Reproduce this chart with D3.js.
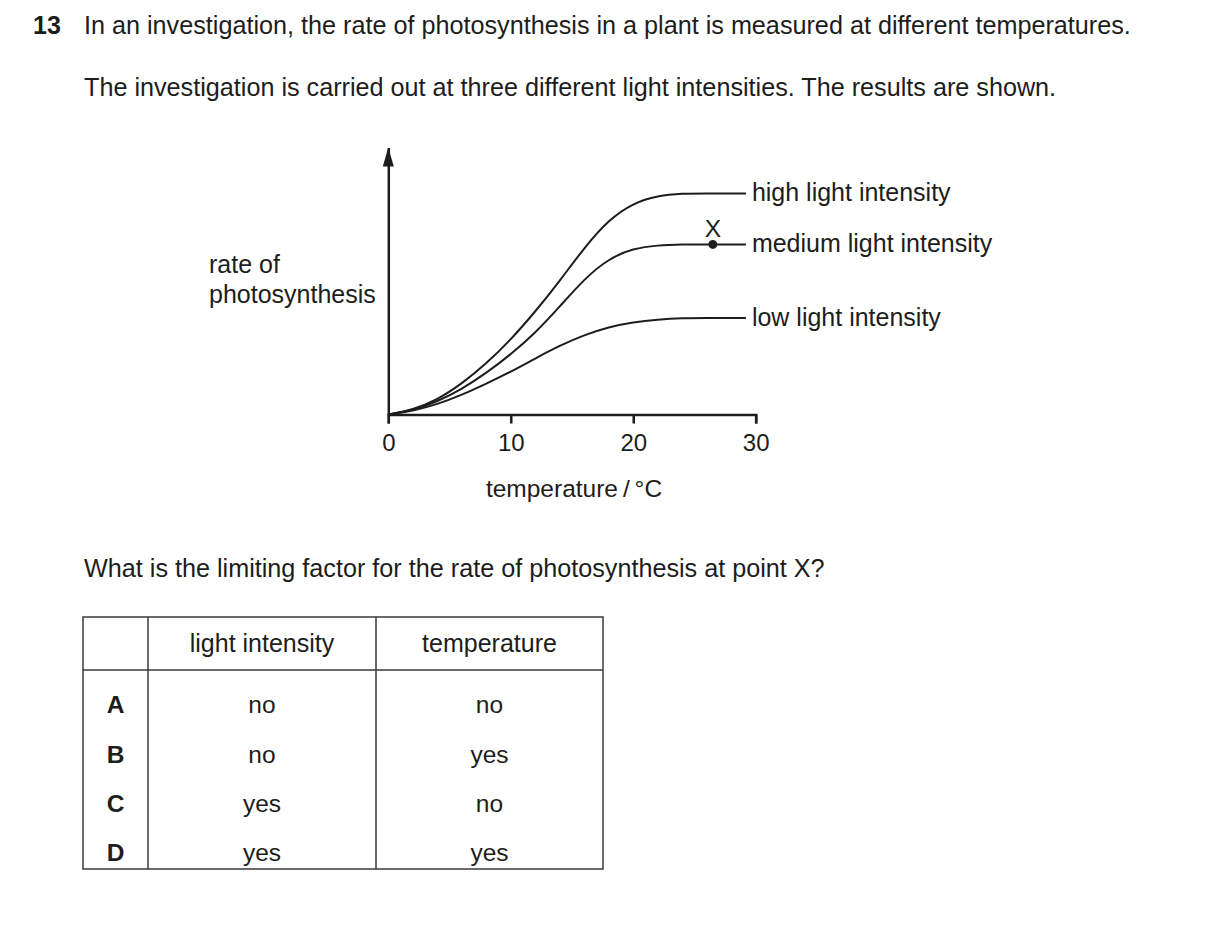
<!DOCTYPE html>
<html><head><meta charset="utf-8">
<script src="https://cdn.jsdelivr.net/npm/d3@7"></script>
<style>
body{margin:0;background:#fff}
text{font-family:"Liberation Sans",Arial,Helvetica,sans-serif;fill:#1d1d1b}
</style>
</head><body>
<svg id="c" width="1209" height="932"></svg>
<script>
// ---- data ----
const temperatures = [0, 2, 4, 6, 8, 10, 12, 14, 16, 18, 20, 22, 24, 26, 28, 29.2];
const highRate   = [0, 1.8, 5.5, 11.5, 19, 28, 38.5, 50, 62.5, 73, 79.2, 82, 82.8, 82.8, 82.8, 82.8];
const mediumRate = [0, 1.6, 4.8, 9.5, 15.5, 22.5, 30.5, 40.4, 50.8, 58.4, 62.2, 63.4, 63.7, 63.7, 63.7, 63.7];
const lowRate    = [0, 1.3, 3.8, 7.3, 11.5, 16, 21, 25.8, 29.8, 32.8, 34.6, 35.6, 36.1, 36.1, 36.1, 36.1];
const seriesNames = ["high light intensity", "medium light intensity", "low light intensity"];
const xTickValues = [0, 10, 20, 30];
const pointLabel = "X";
const pointTemperature = 26.5;
const tableHeaders = ["", "light intensity", "temperature"];
const optionLetters = ["A", "B", "C", "D"];
const lightAnswers = ["no", "no", "yes", "yes"];
const temperatureAnswers = ["no", "yes", "no", "yes"];
const questionNumber = "13";
const introLines = [
  "In an investigation, the rate of photosynthesis in a plant is measured at different temperatures.",
  "The investigation is carried out at three different light intensities. The results are shown."
];
const questionText = "What is the limiting factor for the rate of photosynthesis at point X?";
const yLabelLines = ["rate of", "photosynthesis"];
const xLabel = "temperature\u2009/\u2009°C";

// ---- drawing ----
const ink = "#1d1d1b";
const svg = d3.select("#c");
svg.append("rect").attr("width", 1209).attr("height", 932).attr("fill", "#fff");

// question text
svg.append("text").attr("x", 33).attr("y", 34).attr("font-size", 25).attr("font-weight", "bold").text(questionNumber);
svg.selectAll("text.intro").data(introLines).join("text").attr("class", "intro")
  .attr("x", 84).attr("y", (d, i) => 34 + i * 62).attr("font-size", 25.2).text(d => d);
svg.append("text").attr("x", 84).attr("y", 577).attr("font-size", 25.2).text(questionText);

// scales
const x = d3.scaleLinear().domain([0, 30]).range([388.3, 755.7]);
const y = d3.scaleLinear().domain([0, 100]).range([414.5, 147.5]);

// x axis
const xAxis = svg.append("g").attr("transform", `translate(0,${y(0)})`)
  .call(d3.axisBottom(x).tickValues(xTickValues).tickSize(9).tickSizeOuter(9).tickPadding(10).tickFormat(d3.format("d")));
xAxis.select(".domain").attr("stroke", ink).attr("stroke-width", 2.5);
xAxis.selectAll(".tick line").attr("stroke", ink).attr("stroke-width", 2.5);
xAxis.selectAll(".tick text").attr("font-size", 24).attr("font-family", "'Liberation Sans',Arial,sans-serif").attr("fill", ink);

// y axis with arrow
const yAxis = svg.append("g").attr("transform", `translate(${x(0)},0)`)
  .call(d3.axisLeft(y).tickValues([]).tickSizeOuter(0));
yAxis.select(".domain").attr("stroke", ink).attr("stroke-width", 2.5);
svg.append("path")
  .attr("d", `M${x(0)},${y(100)} L${x(0) - 5.5},${y(100) + 19} L${x(0) + 5.5},${y(100) + 19} Z`)
  .attr("fill", ink);

// curves
const series = [highRate, mediumRate, lowRate].map((vals, i) => ({
  name: seriesNames[i],
  points: temperatures.map((t, j) => ({ t, r: vals[j] }))
}));
const line = d3.line().x(d => x(d.t)).y(d => y(d.r)).curve(d3.curveBasis);
svg.selectAll("path.curve").data(series).join("path").attr("class", "curve")
  .attr("d", d => line(d.points)).attr("fill", "none").attr("stroke", ink).attr("stroke-width", 2);

// series labels
svg.selectAll("text.slabel").data(series).join("text").attr("class", "slabel")
  .attr("x", d => x(d.points[d.points.length - 1].t) + 6)
  .attr("y", d => y(d.points[d.points.length - 1].r) + 7.5)
  .attr("font-size", 25).text(d => d.name);

// point X
const pr = mediumRate[mediumRate.length - 1];
svg.append("circle").attr("cx", x(pointTemperature)).attr("cy", y(pr)).attr("r", 4.5).attr("fill", ink);
svg.append("text").attr("x", x(pointTemperature)).attr("y", y(pr) - 7).attr("text-anchor", "middle")
  .attr("font-size", 24.5).text(pointLabel);

// axis labels
svg.selectAll("text.ylab").data(yLabelLines).join("text").attr("class", "ylab")
  .attr("x", 209).attr("y", (d, i) => 273 + i * 30).attr("font-size", 25).text(d => d);
svg.append("text").attr("x", (x(0) + x(30)) / 2 + 2).attr("y", 497).attr("text-anchor", "middle")
  .attr("font-size", 24.5).text(xLabel);

// answer table
const colX = [83, 148, 376, 603];
const tableTop = 617, headerBottom = 670, tableBottom = 869;
const rowY = [704, 754, 803, 852];
const tg = svg.append("g");
const border = "#3a3a3a";
tg.append("rect").attr("x", colX[0]).attr("y", tableTop).attr("width", colX[3] - colX[0]).attr("height", tableBottom - tableTop)
  .attr("fill", "none").attr("stroke", border).attr("stroke-width", 1.5);
tg.selectAll("line.v").data([colX[1], colX[2]]).join("line").attr("class", "v")
  .attr("x1", d => d).attr("x2", d => d).attr("y1", tableTop).attr("y2", tableBottom)
  .attr("stroke", border).attr("stroke-width", 1.5);
tg.append("line").attr("x1", colX[0]).attr("x2", colX[3]).attr("y1", headerBottom).attr("y2", headerBottom)
  .attr("stroke", border).attr("stroke-width", 1.5);
const colCenter = i => (colX[i] + colX[i + 1]) / 2;
tg.selectAll("text.hdr").data(tableHeaders).join("text").attr("class", "hdr")
  .attr("x", (d, i) => colCenter(i)).attr("y", 643).attr("dy", "0.35em").attr("text-anchor", "middle")
  .attr("font-size", 25).text(d => d);
const rows = optionLetters.map((l, i) => [l, lightAnswers[i], temperatureAnswers[i]]);
rows.forEach((r, ri) => {
  tg.selectAll(null).data(r).join("text")
    .attr("x", (d, i) => colCenter(i)).attr("y", rowY[ri]).attr("dy", "0.35em").attr("text-anchor", "middle")
    .attr("font-size", 24.5).attr("font-weight", (d, i) => i === 0 ? "bold" : "normal").text(d => d);
});
</script>
</body></html>
